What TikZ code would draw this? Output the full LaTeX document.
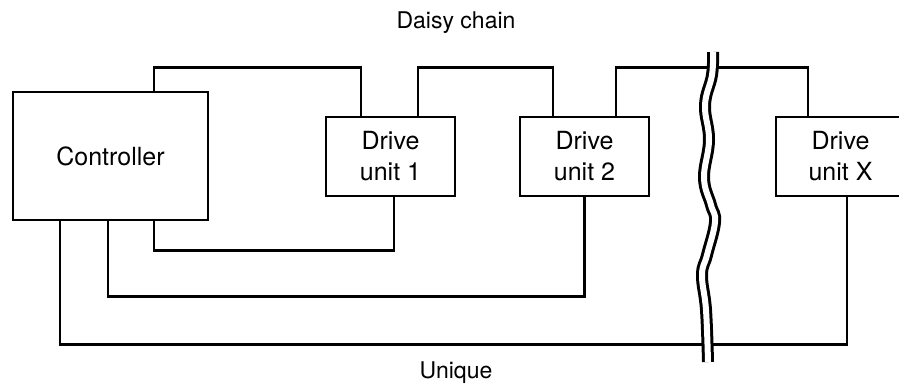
\documentclass[tikz,border=0pt]{standalone}
\usepackage{fontspec}
\setmainfont{TeX Gyre Heros}
\usetikzlibrary{calc}

\begin{document}
\begin{tikzpicture}[
    x=0.5pt, y=-0.5pt,
    every node/.style={font=\fontsize{11.5}{15.5}\selectfont},
    unit/.style={
        draw=black, line width=1.4pt, fill=white,
        align=center, inner sep=0pt,
        font=\fontsize{12.5}{15.5}\selectfont
    },
    wire/.style={draw=black, line width=1.4pt},
    brk/.style={draw=black, line width=1.5pt, double=white, double distance=3pt}
]
\useasboundingbox (0,0) rectangle (899,388);

% Units
\node[unit, minimum width=97.5pt, minimum height=64pt] (ctrl) at (110.5,156)
    {Controller};
\node[unit, minimum width=64.5pt, minimum height=39.5pt] (du1) at (390.5,156.5)
    {Drive\\unit 1};
\node[unit, minimum width=64.5pt, minimum height=39.5pt] (du2) at (584.5,156.5)
    {Drive\\unit 2};
\node[unit, minimum width=64.5pt, minimum height=39.5pt] (dux) at (840.5,156.5)
    {Drive\\unit X};

% Labels
\node[anchor=base] (daisy) at (456,28) {Daisy chain};
\node[anchor=base] (unique) at (456,378) {Unique};

% Daisy chain
\draw[wire] ($(ctrl.north)+(43.5,0)$) -- ++(0,-23) -| ($(du1.north)+(-29.5,0)$);
\draw[wire] ($(du1.north)+(27.5,0)$) -- ++(0,-48) -| ($(du2.north)+(-31.5,0)$);
\draw[wire] ($(du2.north)+(31.5,0)$) -- ++(0,-48) -| ($(dux.north)+(-32.5,0)$);

% Unique
\draw[wire] ($(ctrl.south)+(43.5,0)$) -- ++(0,29) -| ($(du1.south)+(3.5,0)$);
\draw[wire] ($(ctrl.south)+(-2.5,0)$) -- ++(0,75) -| (du2.south);
\draw[wire] ($(ctrl.south)+(-50.5,0)$) -- ++(0,123) -| ($(dux.south)+(6.5,0)$);

% Break
\draw[brk] plot[smooth, tension=0.7] coordinates {
    (713,52) (712,75) (705,105) (709,140) (704,178) (711,205)
    (715,222) (707,255) (702,275) (706,310) (708,362)};

\end{tikzpicture}
\end{document}
